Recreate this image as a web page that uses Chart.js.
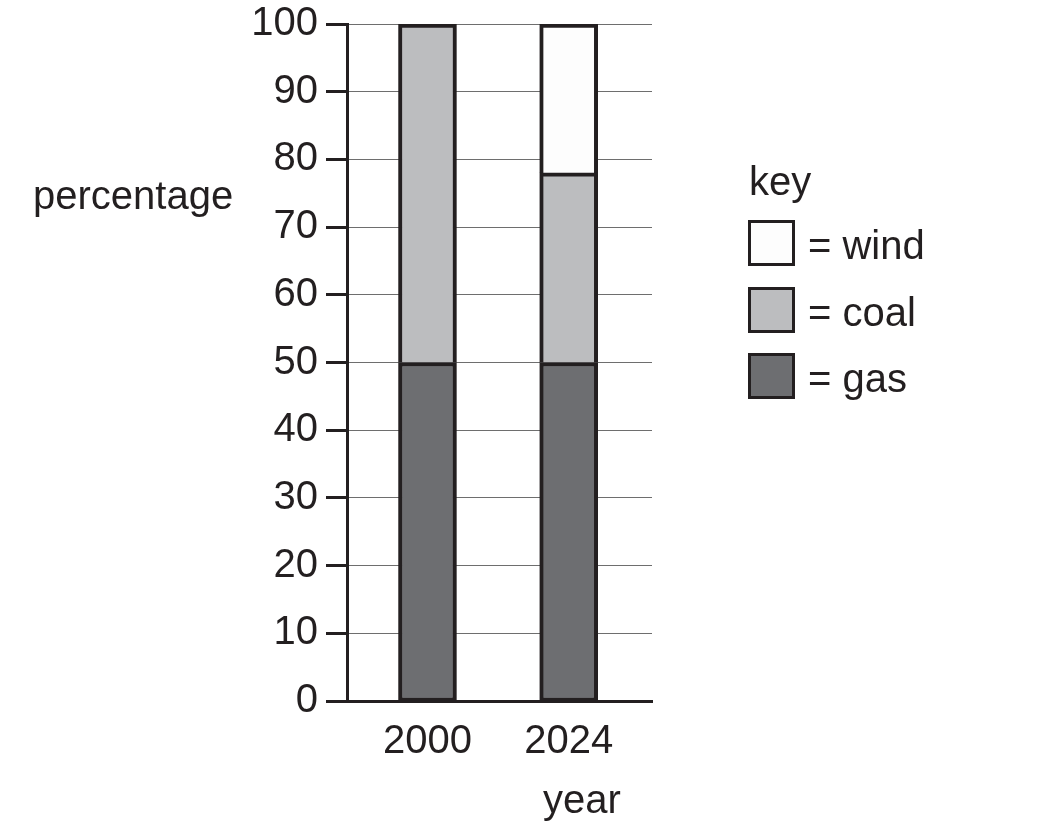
<!DOCTYPE html>
<html>
<head>
<meta charset="utf-8">
<script src="https://cdn.jsdelivr.net/npm/chart.js@4/dist/chart.umd.min.js"></script>
<style>
  body { margin: 0; background: #fff; }
  #wrap { position: relative; width: 1048px; height: 824px; font-family: "Liberation Sans", Arial, sans-serif; color: #231f20; }
  #wrap canvas { position: absolute; left: 0; top: 0; }
  .lbl { position: absolute; font-size: 40px; line-height: 40px; white-space: nowrap; }
  .box { position: absolute; left: 748px; width: 47px; height: 46px; box-sizing: border-box; border: 3px solid #231f20; }
</style>
</head>
<body>
<div id="wrap">
  <canvas id="chart-energy" width="1048" height="824"></canvas>
  <div class="lbl" style="left:33px; top:175px;">percentage</div>
  <div class="lbl" style="left:543px; top:779px;">year</div>
  <div class="lbl" style="left:749px; top:161px;">key</div>
  <div class="box" style="top:220px; background:#fdfdfd;"></div>
  <div class="lbl" style="left:808px; top:225px;">= wind</div>
  <div class="box" style="top:287px; background:#bcbdbf;"></div>
  <div class="lbl" style="left:808px; top:292px;">= coal</div>
  <div class="box" style="top:353px; background:#6d6e71;"></div>
  <div class="lbl" style="left:808px; top:358px;">= gas</div>
</div>
<script>
// values (percent)
var years = ['2000', '2024'];
var gas = [50, 50];
var coal = [50, 28];
var wind = [null, 22];
var yTicks = [0, 10, 20, 30, 40, 50, 60, 70, 80, 90, 100];

var ink = '#231f20';

function points(values) {
    return values.map((v, i) => ({ x: i + 1, y: v }));
}

const energy_context = document.getElementById('chart-energy').getContext('2d');
energy_data = {
    datasets: [{
                    label: 'gas',
                    data: points(gas),
                    backgroundColor: '#6d6e71',
                    borderColor: ink,
                    borderWidth: { top: 4, left: 4, right: 4, bottom: 3 },
                    borderSkipped: false
                },
                {
                    label: 'coal',
                    data: points(coal),
                    backgroundColor: '#bcbdbf',
                    borderColor: ink,
                    borderWidth: { top: 4, left: 4, right: 4, bottom: 0 },
                    borderSkipped: false
                },
                {
                    label: 'wind',
                    data: points(wind),
                    backgroundColor: '#fdfdfd',
                    borderColor: ink,
                    borderWidth: { top: 4, left: 4, right: 4, bottom: 0 },
                    borderSkipped: false
                }
    ]
}

energy_chart = new Chart(energy_context, {
    type: 'bar',
    data: energy_data,
    options: {
        responsive: false,
        animation: false,
        barThickness: 58,
        layout: { padding: { top: 24, right: 396, bottom: 0, left: 0 } },
        plugins: { legend: { display: false }, tooltip: { enabled: false } },
        scales: {
            x: {
                type: 'linear',
                stacked: true,
                offset: false,
                min: 0.43,
                max: 2.59,
                afterBuildTicks: function (scale) {
                    scale.ticks = years.map((y, i) => ({ value: i + 1 }));
                },
                afterFit: function (scale) {
                    scale.height = 123;
                    scale.paddingLeft = 0;
                    scale.paddingRight = 0;
                },
                ticks: {
                    padding: 17,
                    color: ink,
                    font: { family: 'Liberation Sans', size: 40 },
                    callback: function (v) { return years[Math.round(v) - 1]; }
                },
                grid: { display: false, drawTicks: false, offset: false },
                border: { display: true, color: ink, width: 3 }
            },
            y: {
                stacked: true,
                min: 0,
                max: 100,
                afterBuildTicks: function (scale) {
                    scale.ticks = yTicks.map(v => ({ value: v }));
                },
                afterFit: function (scale) {
                    scale.width = 347;
                    scale.paddingTop = 0;
                    scale.paddingBottom = 0;
                },
                ticks: {
                    padding: 8,
                    color: ink,
                    font: { family: 'Liberation Sans', size: 40 }
                },
                grid: {
                    color: '#6e6e6e',
                    lineWidth: 1,
                    tickColor: ink,
                    tickWidth: 3,
                    tickLength: 21
                },
                border: { display: true, color: ink, width: 3 }
            }
        }
    }
});
</script>
</body>
</html>
